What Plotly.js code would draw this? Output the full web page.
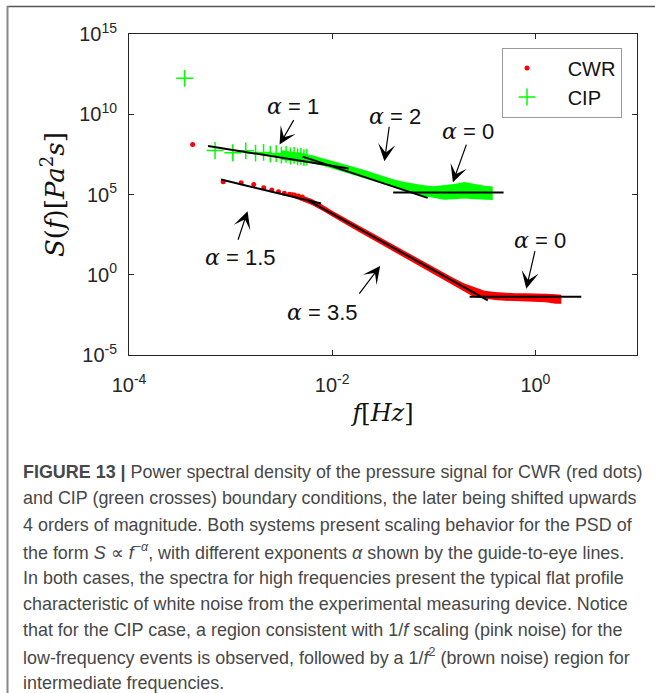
<!DOCTYPE html>
<html><head><meta charset="utf-8">
<script src="https://cdn.plot.ly/plotly-3.0.1.min.js"></script>
<style>html,body{margin:0;padding:0;background:#fff;} #chart{width:655px;height:693px;}</style>
</head><body><div id="chart"></div>
<script>
// ---- CWR (red dots): low-frequency discrete points ----
const cwrF = [4.23e-4, 8.46e-4, 1.27e-3, 1.69e-3, 2.12e-3, 2.54e-3, 2.96e-3, 3.38e-3, 3.81e-3, 4.23e-3, 4.65e-3, 5.08e-3];
const cwrS = [1.29e8, 6.17e5, 5.37e5, 4.17e5, 2.63e5, 1.91e5, 1.51e5, 1.20e5, 1.05e5, 9.33e4, 7.94e4, 6.92e4];
// ---- CWR dense region: envelope of the point cloud ----
const cwrBandF = [3.98e-3, 5.01e-3, 6.31e-3, 7.94e-3, 1.0e-2, 1.58e-2, 2.51e-2, 3.98e-2, 6.31e-2, 0.1, 0.126, 0.158, 0.200, 0.251, 0.316, 0.398, 0.501, 0.631, 0.794, 1.00, 1.26, 1.58, 1.80];
const cwrBandLow = [7.08e4, 4.17e4, 2.24e4, 1.0e4, 4.17e3, 7.94e2, 1.51e2, 29.5, 5.75, 1.10, 0.501, 0.224, 0.100, 0.040, 0.0331, 0.0263, 0.0240, 0.0224, 0.0209, 0.0200, 0.0191, 0.0158, 0.0158];
const cwrBandHigh = [1.41e5, 8.91e4, 5.25e4, 2.40e4, 9.55e3, 1.91e3, 3.72e2, 72.4, 14.1, 2.82, 1.32, 0.603, 0.282, 0.178, 0.100, 0.0832, 0.0759, 0.0708, 0.0708, 0.0708, 0.0661, 0.0603, 0.0562];

// ---- CIP (green crosses): low-frequency discrete points ----
const cipF = [3.52e-4, 7.03e-4, 1.05e-3, 1.41e-3, 1.76e-3, 2.11e-3, 2.46e-3, 2.81e-3, 3.16e-3, 3.52e-3, 3.87e-3, 4.22e-3, 4.57e-3, 4.92e-3, 5.27e-3, 5.63e-3];
const cipS = [1.74e12, 5.50e7, 3.98e7, 5.25e7, 3.80e7, 4.17e7, 3.31e7, 3.55e7, 2.82e7, 3.16e7, 2.51e7, 2.75e7, 2.24e7, 2.40e7, 2.00e7, 2.14e7];
// ---- CIP dense region: envelope of the point cloud ----
const cipBandF = [3.16e-3, 3.98e-3, 5.01e-3, 6.31e-3, 7.94e-3, 1.0e-2, 1.26e-2, 1.58e-2, 2.0e-2, 2.51e-2, 3.16e-2, 3.98e-2, 5.01e-2, 6.31e-2, 7.94e-2, 0.1, 0.126, 0.158, 0.2, 0.251, 0.316, 0.380];
const cipBandLow = [1.41e7, 1.20e7, 1.05e7, 8.91e6, 6.31e6, 4.17e6, 2.69e6, 1.78e6, 1.12e6, 7.08e5, 4.47e5, 2.69e5, 1.66e5, 1.12e5, 7.94e4, 6.31e4, 4.79e4, 5.01e4, 5.62e4, 5.01e4, 4.47e4, 4.47e4];
const cipBandHigh = [5.62e7, 4.79e7, 3.80e7, 2.82e7, 1.91e7, 1.26e7, 8.32e6, 5.62e6, 3.55e6, 2.24e6, 1.41e6, 8.91e5, 6.31e5, 4.79e5, 3.80e5, 3.31e5, 3.98e5, 4.47e5, 6.03e5, 4.47e5, 3.55e5, 3.16e5];

// ---- guide-to-eye power-law lines (endpoints) ----
const cipA1F = [6.0e-4, 1.45e-2],  cipA1S = [1.05e8, 4.17e6];
const cipA2F = [5.12e-3, 8.69e-2], cipA2S = [2.29e7, 6.17e4];
const cipA0F = [3.98e-2, 0.486],   cipA0S = [1.32e5, 1.32e5];
const cwrA15F = [8.05e-4, 7.78e-3], cwrA15S = [8.51e5, 2.75e4];
const cwrA35F = [5.57e-3, 0.340],   cwrA35S = [4.90e4, 2.51e-2];
const cwrA0F = [0.225, 2.83],       cwrA0S = [0.0427, 0.0427];

// ---- exponent labels: text, label position (log10 f, log10 S), arrow head (log10 f, log10 S), tail offset px ----
const alphaText = ['1', '2', '0', '1.5', '3.5', '0'];
const labelPos = [[-2.39, 10.47], [-1.385, 9.85], [-0.667, 8.92], [-2.90, 1.08], [-2.095, -2.34], [0.041, 2.14]];
const arrowHead = [[-2.518, 8.11], [-1.486, 7.07], [-0.812, 5.77], [-2.833, 3.96], [-1.528, 0.54], [-0.090, -0.87]];
const arrowTail = [[15, -26], [5, -36], [14, -39], [-10, 30], [-22, 29], [9, -39]];

// ---- axis ticks and titles ----
const xTickVals = [1e-4, 1e-2, 1];
const xTickText = ['10<sup>-4</sup>', '10<sup>-2</sup>', '10<sup>0</sup>'];
const yTickVals = [1e-5, 1, 1e5, 1e10, 1e15];
const yTickText = ['10<sup>-5</sup>', '10<sup>0</sup>', '10<sup>5</sup>', '10<sup>10</sup>', '10<sup>15</sup>'];
const xTitle = '<i>f</i>[<i>Hz</i>]';
const yTitle = '<i>S</i>(<i>f</i>)[<i>Pa</i><sup>2</sup><i>s</i>]';

// ---- legend names ----
const seriesNames = ['CWR', 'CIP'];

// ---- caption ----
const captionLines = [
  '<b>FIGURE 13 |</b> Power spectral density of the pressure signal for CWR (red dots)',
  'and CIP (green crosses) boundary conditions, the later being shifted upwards',
  '4 orders of magnitude. Both systems present scaling behavior for the PSD of',
  'the form <i>S</i> \u221d <i>f</i><sup>\u2212<i>\u03b1</i></sup>, with different exponents <i>\u03b1</i> shown by the guide-to-eye lines.',
  'In both cases, the spectra for high frequencies present the typical flat profile',
  'characteristic of white noise from the experimental measuring device. Notice',
  'that for the CIP case, a region consistent with 1/<i>f</i> scaling (pink noise) for the',
  'low-frequency events is observed, followed by a 1/<i>f</i><sup>2</sup> (brown noise) region for',
  'intermediate frequencies.'
];

// ---------------- layout geometry ----------------
const W = 655, H = 693;
const M = {l: 129, r: 18, t: 34, b: 338};
const PW = W - M.l - M.r, PH = H - M.t - M.b;
const px2x = p => (p - M.l) / PW;
const py2y = p => 1 - (p - M.t) / PH;

const RED = '#ff0000', GREEN = '#00ff00';
const NB = '\u00a0\u00a0\u00a0';
const MATH = 'DejaVu Serif, Liberation Serif, serif';
const traces = [];
function band(f, lo, hi, color) {
  traces.push({x: f, y: lo, mode: 'lines', line: {width: 0, color: color}, showlegend: false, hoverinfo: 'skip'});
  traces.push({x: f, y: hi, mode: 'lines', line: {width: 0, color: color}, fill: 'tonexty', fillcolor: color, showlegend: false, hoverinfo: 'skip'});
}
band(cwrBandF, cwrBandLow, cwrBandHigh, RED);
traces.push({x: cwrF, y: cwrS, name: NB + seriesNames[0], mode: 'markers', marker: {symbol: 'circle', size: 5, color: RED, line: {width: 0}}});
band(cipBandF, cipBandLow, cipBandHigh, GREEN);
traces.push({x: cipF, y: cipS, name: NB + seriesNames[1], mode: 'markers', marker: {symbol: 'cross-thin', size: 12, color: GREEN, line: {color: GREEN, width: 1.5}}});
[[cipA1F, cipA1S], [cipA2F, cipA2S], [cipA0F, cipA0S], [cwrA15F, cwrA15S], [cwrA35F, cwrA35S], [cwrA0F, cwrA0S]].forEach(([f, s]) => {
  traces.push({x: f, y: s, mode: 'lines', line: {color: '#000', width: 2}, showlegend: false, hoverinfo: 'skip'});
});

const annotations = [];
alphaText.forEach((t, i) => {
  annotations.push({
    x: labelPos[i][0], y: labelPos[i][1], xref: 'x', yref: 'y', showarrow: false,
    text: '<span style="font-family:\'DejaVu Serif\',serif;font-style:italic">\u03b1</span> = ' + t,
    font: {family: 'Liberation Sans, Arial, sans-serif', size: 22, color: '#111'}
  });
  annotations.push({
    x: arrowHead[i][0], y: arrowHead[i][1], xref: 'x', yref: 'y', text: '',
    showarrow: true, arrowhead: 3, arrowsize: 2.4, arrowwidth: 1.2, arrowcolor: '#000',
    ax: arrowTail[i][0], ay: arrowTail[i][1]
  });
});

// y-axis title, placed as a rotated label left of the tick labels, centred on the axis
annotations.push({
  x: px2x(53), y: py2y(195), xref: 'paper', yref: 'paper', showarrow: false,
  xanchor: 'center', yanchor: 'middle', textangle: -90, text: yTitle,
  font: {family: MATH, size: 26, color: '#111'}
});

// caption font size fitted to line width of the reference
const ctx = document.createElement('canvas').getContext('2d');
ctx.font = '16px "Liberation Sans"';
const capSize = Math.max(14, Math.min(19, 16 * 614 / ctx.measureText(captionLines[1]).width));
captionLines.forEach((line, i) => {
  annotations.push({
    x: px2x(21), y: py2y(472 + i * 26.4), xref: 'paper', yref: 'paper',
    xanchor: 'left', yanchor: 'middle', align: 'left', showarrow: false,
    text: line, font: {family: 'Liberation Sans, Arial, sans-serif', size: capSize, color: '#474747'}
  });
});

const tickFont = {family: 'Liberation Sans, Arial, sans-serif', size: 20, color: '#262626'};
const axisCommon = {
  type: 'log', showgrid: false, zeroline: false, showline: true, linecolor: '#262626', linewidth: 1,
  mirror: 'ticks', ticks: 'inside', ticklen: 5, tickwidth: 1, tickcolor: '#262626',
  tickfont: tickFont, automargin: false
};

const layout = {
  width: W, height: H, margin: M, paper_bgcolor: '#fff', plot_bgcolor: '#fff',
  showlegend: true,
  xaxis: Object.assign({}, axisCommon, {
    range: [-4, 1], tickmode: 'array', tickvals: xTickVals, ticktext: xTickText, ticklabelstandoff: 12,
    title: {text: xTitle, font: {family: MATH, size: 24, color: '#111'}, standoff: 9}
  }),
  yaxis: Object.assign({}, axisCommon, {
    range: [-5, 15], tickmode: 'array', tickvals: yTickVals, ticktext: yTickText, ticklabelstandoff: 7
  }),
  legend: {
    x: px2x(622), y: py2y(47.5), xanchor: 'right', yanchor: 'top', traceorder: 'normal',
    bgcolor: '#fff', bordercolor: '#999', borderwidth: 1, itemwidth: 38,
    font: {family: 'Liberation Sans, Arial, sans-serif', size: 20, color: '#111'}
  },
  annotations: annotations,
  shapes: [
    {type: 'line', xref: 'paper', yref: 'paper', x0: px2x(7), x1: px2x(655), y0: py2y(6.5), y1: py2y(6.5), line: {color: '#555', width: 1.5}},
    {type: 'line', xref: 'paper', yref: 'paper', x0: px2x(7.5), x1: px2x(7.5), y0: py2y(6), y1: py2y(693), line: {color: '#888', width: 2}}
  ]
};

Plotly.newPlot('chart', traces, layout, {displayModeBar: false, staticPlot: true});
</script></body></html>
